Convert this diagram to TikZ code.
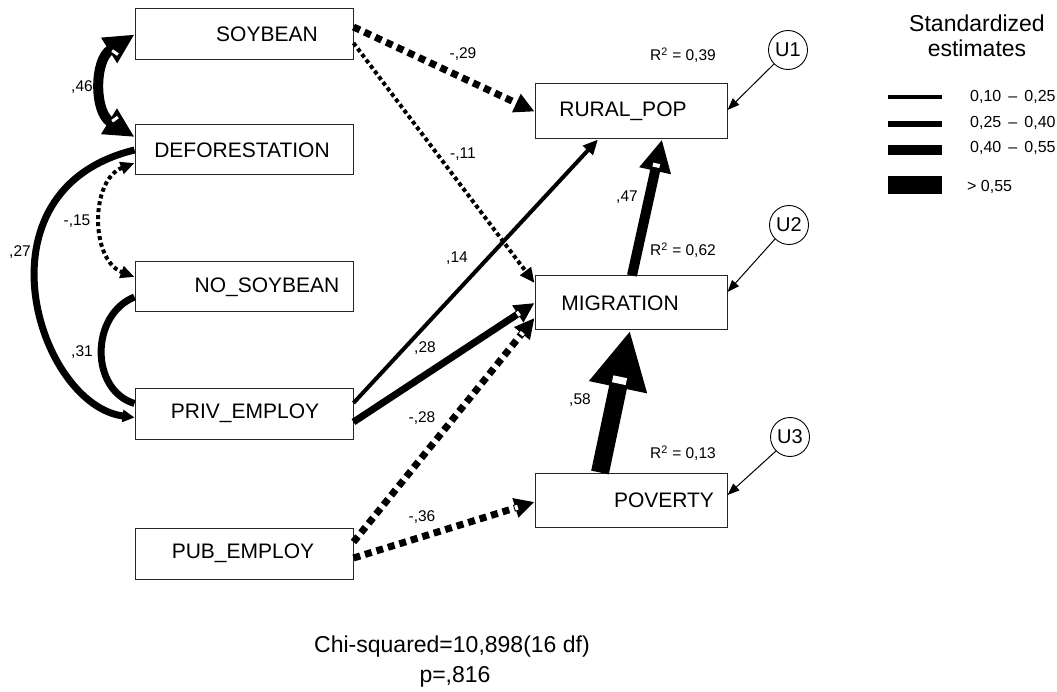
\documentclass[tikz,border=0pt]{standalone}
\usepackage{fontspec}
\setmainfont{Liberation Sans}
\usetikzlibrary{arrows.meta}
\newcommand\bxfont{\fontsize{21}{25}\selectfont}
\newcommand\lbfont{\fontsize{15.5}{18}\selectfont}
\newcommand\bgfont{\fontsize{23}{27}\selectfont}
\begin{document}
\begin{tikzpicture}[x=1pt,y=-1pt,
  box/.style={draw=black!85, line width=1pt, minimum width=218pt, minimum height=51pt, inner sep=0pt},
  rbox/.style={box, minimum width=192pt, minimum height=54pt},
  ucirc/.style={draw, circle, line width=0.9pt, minimum size=39pt, inner sep=0pt, font=\fontsize{20}{24}\selectfont},
  elab/.style={font=\lbfont, inner sep=0pt},
  w1/.style={line width=4pt},
  w2/.style={line width=7pt},
  w3/.style={line width=10pt},
  w4/.style={line width=18pt},
  dashedsq/.style={dash pattern=on 7pt off 5pt},
  dottedsq/.style={dash pattern=on 4pt off 3pt},
  tipS/.style={-{Triangle[length=15pt,width=13pt]}},
  tipM/.style={-{Triangle[length=20pt,width=19pt]}},
  tipL/.style={-{Triangle[length=32pt,width=30pt]}},
  tipXL/.style={-{Triangle[length=58pt,width=55pt]}},
  tipU/.style={-{Triangle[length=12pt,width=9pt]}},
  wmark/.style={fill=white, inner sep=0pt, sloped},
]
\useasboundingbox (0,0) rectangle (1057,692);

% observed variables (left)
\node[box, label={[xshift=23pt,font=\bxfont]center:SOYBEAN}] (soy) at (244,34.5) {};
\node[box, minimum height=50pt, label={[xshift=-2pt,font=\bxfont]center:DEFORESTATION}] (defo) at (244,150) {};
\node[box, minimum height=50pt, label={[xshift=23pt,font=\bxfont]center:NO\_SOYBEAN}] (nosoy) at (244,287) {};
\node[box, label={[xshift=1pt,font=\bxfont]center:PRIV\_EMPLOY}] (priv) at (244,413.5) {};
\node[box, label={[xshift=-1pt,font=\bxfont]center:PUB\_EMPLOY}] (pub) at (244,553.5) {};

% endogenous variables
\node[rbox, minimum height=55pt, label={[xshift=-8pt,font=\bxfont]center:RURAL\_POP}] (rural) at (631,111.5) {};
\node[rbox, label={[xshift=-11pt,font=\bxfont]center:MIGRATION}] (mig) at (631,303) {};
\node[rbox, label={[xshift=33pt,font=\bxfont]center:POVERTY}] (pov) at (631,500) {};

% error terms
\node[ucirc] (u1) at (788,50) {U1};
\node[ucirc] (u2) at (789,225) {U2};
\node[ucirc] (u3) at (790,437) {U3};
\draw[line width=1pt, tipU] (u1.225) -- ([yshift=1.5pt]rural.east);
\draw[line width=1pt, tipU] (u2.225) -- ([yshift=11pt]mig.east);
\draw[line width=1pt, tipU] (u3.225) -- ([yshift=5pt]pov.east);

% R squared
\node[elab] (r1) at (683,55) {R\textsuperscript{2} = 0,39};
\node[elab] (r2) at (683,250) {R\textsuperscript{2} = 0,62};
\node[elab] (r3) at (683,453) {R\textsuperscript{2} = 0,13};

% covariances
\draw[w3, {Triangle[length=30pt,width=28pt]}-{Triangle[length=30pt,width=28pt]}]
  (soy.west) .. controls (94,60) and (94,112) .. ([yshift=13pt]defo.west);
\path (soy.west) .. controls (94,60) and (94,112) .. ([yshift=13pt]defo.west)
  node[wmark, pos=0.2, minimum width=3pt, minimum height=7pt] (m46a) {}
  node[wmark, pos=0.8, minimum width=3pt, minimum height=7pt] (m46b) {};
\draw[w2, -{Triangle[length=12pt,width=12pt]}]
  (defo.west) .. controls (-30,190) and (38,405) .. ([yshift=-4pt]priv.west);
\draw[w1, dottedsq, {Triangle[length=14pt,width=12pt]}-{Triangle[length=14pt,width=12pt]}]
  ([yshift=-13pt]defo.west) .. controls (90,180) and (90,260) .. ([yshift=10pt]nosoy.west);
\draw[w2]
  ([yshift=-10pt]nosoy.west) .. controls (90,315) and (90,390) .. ([yshift=10pt]priv.west);

% paths
\draw[w2, dashedsq, tipM] ([yshift=7.5pt]soy.east) -- (rural.west);
\draw[w1, dottedsq, tipS] ([yshift=-8.5pt]soy.east) -- ([yshift=20pt]mig.west);
\draw[w1, tipS] ([yshift=10.5pt]priv.east) -- ([xshift=-33pt]rural.south);
\draw[w2, tipM] ([yshift=-8.5pt]priv.east) -- (mig.west);
\path (mig.west) -- ([yshift=-8.5pt]priv.east)
  node[wmark, pos=0.09, minimum width=3pt, minimum height=5pt] (m28) {};
\draw[w2, dashedsq, tipM] ([yshift=11.5pt]pub.east) -- ([yshift=-15pt]mig.west);
\path ([yshift=-15pt]mig.west) -- ([yshift=11.5pt]pub.east)
  node[wmark, pos=0.07, minimum width=3pt, minimum height=5pt] (m28n) {};
\draw[w2, dashedsq, tipM] ([yshift=-4.5pt]pub.east) -- ([yshift=-2pt]pov.west);
\path ([yshift=-2pt]pov.west) -- ([yshift=-4.5pt]pub.east)
  node[wmark, pos=0.1, minimum width=3pt, minimum height=5pt] (m36) {};
\draw[w3, tipL] ([xshift=1pt]mig.north) -- ([xshift=31pt]rural.south);
\path ([xshift=31pt]rural.south) -- ([xshift=1pt]mig.north)
  node[wmark, pos=0.19, minimum width=4pt, minimum height=7pt] (m47) {};
\draw[w4, tipXL] ([xshift=-31pt]pov.north) -- ([xshift=-1pt]mig.south);
\path ([xshift=-1pt]mig.south) -- ([xshift=-31pt]pov.north)
  node[wmark, pos=0.35, minimum width=7pt, minimum height=14pt] (m58) {};

% coefficient labels
\node[elab] (l46) at (82,87) {,46};
\node[elab] (l27) at (20,252) {,27};
\node[elab] (l15) at (77,221) {-,15};
\node[elab] (l31) at (82,352) {,31};
\node[elab] (l29) at (463,54) {-,29};
\node[elab] (l11) at (463,154) {-,11};
\node[elab] (l14) at (457,258) {,14};
\node[elab] (l28) at (425,348) {,28};
\node[elab] (l28n) at (422,418) {-,28};
\node[elab] (l36) at (422,517) {-,36};
\node[elab] (l47) at (627,197) {,47};
\node[elab] (l58) at (580,400) {,58};

% legend
\node[font=\bgfont, inner sep=0pt] (lt1) at (977,23) {Standardized};
\node[font=\bgfont, inner sep=0pt] (lt2) at (977,48) {estimates};
\draw[line width=4pt] (888,97) -- (942,97);
\draw[line width=6pt] (888,124) -- (942,124);
\draw[line width=10pt] (888,150) -- (942,150);
\draw[line width=18pt] (888,185) -- (942,185);
\node[elab, anchor=west, font=\fontsize{16}{19}\selectfont] (g1) at (970,97) {0,10 \,–\, 0,25};
\node[elab, anchor=west, font=\fontsize{16}{19}\selectfont] (g2) at (970,123) {0,25 \,–\, 0,40};
\node[elab, anchor=west, font=\fontsize{16}{19}\selectfont] (g3) at (970,148) {0,40 \,–\, 0,55};
\node[elab, anchor=west, font=\fontsize{16}{19}\selectfont] (g4) at (967,187) {> 0,55};

% fit
\node[font=\bgfont, inner sep=0pt] (chi) at (452,647) {Chi-squared=10,898(16 df)};
\node[font=\bgfont, inner sep=0pt] (pv) at (455,677) {p=,816};
\end{tikzpicture}
\end{document}
